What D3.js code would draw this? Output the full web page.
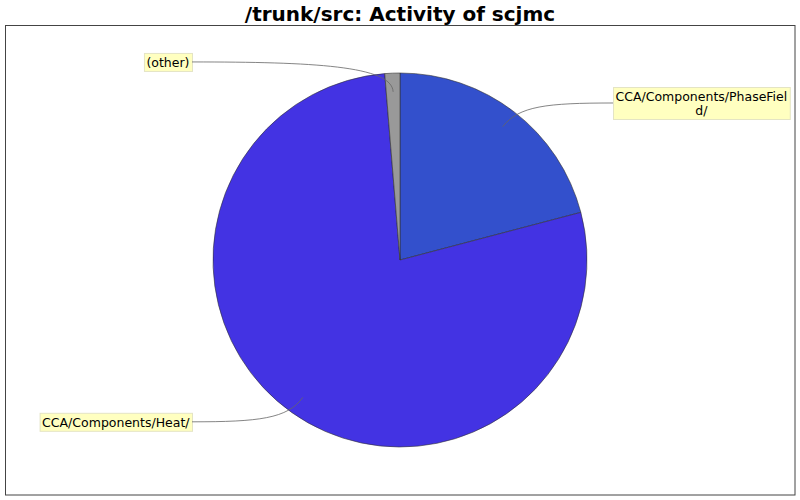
<!DOCTYPE html>
<html>
<head>
<meta charset="utf-8">
<script src="https://cdn.jsdelivr.net/npm/d3@7"></script>
<style>
  body { margin: 0; background: #fff; }
  text { font-family: "DejaVu Sans", sans-serif; }
</style>
</head>
<body>
<div class="container"></div>
<script>
var width = 800;
var height = 500;

var categories = ['CCA/Components/PhaseField/', 'CCA/Components/Heat/', '(other)'];
var shares = [20.9, 77.8, 1.3];
var colors = ['#3350cc', '#4333e3', '#999999'];

var cx = 400, cy = 260, radius = 187;

var svg = d3.select('.container').append('svg')
  .attr('width', width)
  .attr('height', height);

svg.append('text')
  .attr('x', width / 2)
  .attr('y', 21)
  .attr('text-anchor', 'middle')
  .style('font-size', '20px')
  .style('font-weight', 'bold')
  .text('/trunk/src: Activity of scjmc');

svg.append('rect')
  .attr('x', 5.5).attr('y', 25.5)
  .attr('width', 789.5).attr('height', 469.5)
  .attr('fill', 'none')
  .attr('stroke', '#444');

var pie = d3.pie().sort(null).value(function(d) { return d; });
var arcs = pie(shares);
var arc = d3.arc().innerRadius(0).outerRadius(radius);

var g = svg.append('g').attr('transform', 'translate(' + cx + ',' + cy + ')');

g.selectAll('path.slice').data(arcs)
  .enter().append('path')
  .attr('class', 'slice')
  .attr('d', arc)
  .attr('fill', function(d, i) { return colors[i]; })
  .attr('stroke', '#333')
  .attr('stroke-width', 0.6);

var labels = svg.append('g');

arcs.forEach(function(d, i) {
  var a = (d.startAngle + d.endAngle) / 2;
  var s = Math.sin(a), c = Math.cos(a);
  var right = s > 0;
  var ax = cx + s * radius * 0.9, ay = cy - c * radius * 0.9;
  var ex = cx + s * radius * 1.04, ey = cy - c * radius * 1.04;
  var ly = cy - c * radius * 1.06;
  var edgeX = right ? cx + 213 : cx - 208;

  // wrap label text to a max width
  var lg = labels.append('g');
  var maxW = 172;
  var lines = [];
  var cur = '';
  var probe = lg.append('text').style('font-size', '12.5px');
  categories[i].split('').forEach(function(ch) {
    probe.text(cur + ch);
    if (probe.node().getComputedTextLength() > maxW && cur.length) {
      lines.push(cur);
      cur = ch;
    } else {
      cur += ch;
    }
  });
  lines.push(cur);
  probe.remove();

  var lineH = 14;
  var tw = 0;
  var txt = lg.append('text')
    .attr('text-anchor', 'middle')
    .style('font-size', '12.5px')
    .attr('fill', '#000');
  lines.forEach(function(l, k) {
    txt.append('tspan').attr('x', 0).attr('dy', k === 0 ? 0 : lineH).text(l);
  });
  txt.selectAll('tspan').each(function() {
    tw = Math.max(tw, this.getComputedTextLength());
  });
  var bw = tw + 5, bh = lines.length * lineH + 4;
  var bx = right ? edgeX : edgeX - bw;
  var by = ly - bh / 2;
  lg.insert('rect', 'text')
    .attr('x', bx + 0.5).attr('y', by + 0.5)
    .attr('width', bw).attr('height', bh)
    .attr('fill', '#ffffc0')
    .attr('stroke', '#e4e4c4');
  txt.attr('transform', 'translate(' + (bx + bw / 2) + ',' + (by + 14) + ')');

  var endX = right ? bx : bx + bw;
  var path = d3.path();
  path.moveTo(ax, ay);
  path.bezierCurveTo(ex, ey, ax + (endX - ax) * 0.4, ly, endX, ly);
  svg.append('path')
    .attr('d', path.toString())
    .attr('fill', 'none')
    .attr('stroke', '#666')
    .attr('stroke-width', 0.8);
});
</script>
</body>
</html>
